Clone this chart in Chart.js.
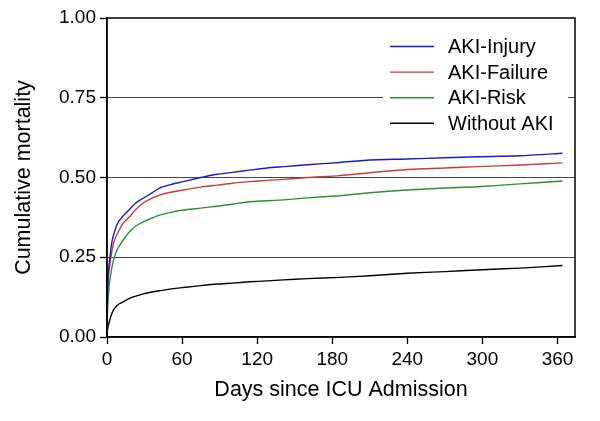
<!DOCTYPE html>
<html>
<head>
<meta charset="utf-8">
<script src="https://cdn.jsdelivr.net/npm/chart.js@4"></script>
<style>
  html, body { margin: 0; padding: 0; background: #fff; }
  #wrap { width: 600px; height: 421px; }
</style>
</head>
<body>
<div id="wrap"><canvas id="c" width="600" height="421"></canvas></div>
<script>
const days = [0, 0.3, 1, 2, 4, 6, 9, 13, 18, 23, 29, 36, 42, 50, 61, 75, 88, 100, 114, 128, 141, 160, 186, 210, 240, 270, 296, 330, 364];
const akiInjury = [0, 0.12, 0.20, 0.24, 0.30, 0.33, 0.36, 0.38, 0.40, 0.42, 0.435, 0.452, 0.467, 0.477, 0.487, 0.50, 0.51, 0.516, 0.523, 0.53, 0.534, 0.54, 0.547, 0.555, 0.558, 0.562, 0.565, 0.568, 0.576];
const akiFailure = [0, 0.11, 0.18, 0.22, 0.27, 0.304, 0.33, 0.357, 0.377, 0.40, 0.42, 0.435, 0.445, 0.453, 0.461, 0.47, 0.476, 0.482, 0.487, 0.491, 0.494, 0.50, 0.506, 0.515, 0.525, 0.53, 0.534, 0.539, 0.546];
const akiRisk = [0, 0.07, 0.12, 0.17, 0.22, 0.252, 0.28, 0.304, 0.33, 0.348, 0.361, 0.373, 0.382, 0.39, 0.398, 0.404, 0.41, 0.416, 0.424, 0.427, 0.43, 0.436, 0.443, 0.452, 0.461, 0.467, 0.471, 0.48, 0.489];
const withoutAki = [0, 0.02, 0.035, 0.05, 0.075, 0.09, 0.102, 0.11, 0.121, 0.128, 0.135, 0.141, 0.145, 0.15, 0.155, 0.161, 0.166, 0.169, 0.173, 0.176, 0.179, 0.183, 0.187, 0.192, 0.20, 0.205, 0.21, 0.216, 0.224];
const seriesNames = ['AKI-Injury', 'AKI-Failure', 'AKI-Risk', 'Without AKI'];
const seriesColors = ['#1a1acc', '#cc3a3a', '#2e8f2e', '#000000'];
const yTicks = [0, 0.25, 0.5, 0.75, 1];
const xTicks = [0, 60, 120, 180, 240, 300, 360];

const allSeries = [akiInjury, akiFailure, akiRisk, withoutAki];
const datasets = allSeries.map((vals, i) => ({
  label: seriesNames[i],
  data: days.map((d, j) => ({ x: d, y: vals[j] })),
  borderColor: seriesColors[i],
  borderWidth: 1.4,
  pointRadius: 0,
  tension: 0.2,
  fill: false
}));

const FONT = 'Liberation Sans, Arial, sans-serif';

const framePlugin = {
  id: 'frame',
  afterDraw(chart) {
    const ctx = chart.ctx;
    const a = chart.chartArea;
    // legend
    ctx.save();
    ctx.fillStyle = '#fff';
    ctx.fillRect(383, 30, 185, 106);
    ctx.font = '20px ' + FONT;
    ctx.textBaseline = 'middle';
    ctx.textAlign = 'left';
    chart.data.datasets.forEach((ds, i) => {
      const y = 46.5 + i * 25.6;
      ctx.strokeStyle = ds.borderColor;
      ctx.lineWidth = 1.4;
      ctx.beginPath();
      ctx.moveTo(390, y);
      ctx.lineTo(434, y);
      ctx.stroke();
      ctx.fillStyle = '#000';
      ctx.fillText(ds.label, 448, y + 1);
    });
    // frame
    ctx.strokeStyle = '#000';
    ctx.lineWidth = 1.5;
    ctx.strokeRect(a.left, a.top, a.right - a.left, a.bottom - a.top);
    ctx.restore();
  }
};

new Chart(document.getElementById('c'), {
  type: 'line',
  data: { datasets },
  options: {
    responsive: false,
    animation: false,
    devicePixelRatio: 1,
    layout: { padding: { top: 18, right: 25, left: 0, bottom: 0 } },
    plugins: { legend: { display: false }, tooltip: { enabled: false } },
    scales: {
      x: {
        type: 'linear',
        min: 0,
        max: 374,
        afterBuildTicks: s => { s.ticks = xTicks.map(v => ({ value: v })); },
        afterFit: s => { s.height = 84; },
        ticks: { font: { size: 19, family: FONT }, color: '#000', padding: 4, maxRotation: 0, autoSkip: false },
        grid: { drawOnChartArea: false, tickLength: 7, tickColor: '#000', tickWidth: 1.3 },
        border: { color: '#000', width: 1.5 },
        title: { display: true, text: 'Days since ICU Admission', font: { size: 21.5, family: FONT }, color: '#000', padding: { top: 2, bottom: 18 } }
      },
      y: {
        min: 0,
        max: 1,
        afterBuildTicks: s => { s.ticks = yTicks.map(v => ({ value: v })); },
        afterFit: s => { s.width = 107; },
        ticks: { font: { size: 19, family: FONT }, color: '#000', padding: 4, callback: v => Number(v).toFixed(2) },
        grid: {
          color: c => (c.tick && c.tick.value > 0 && c.tick.value < 1) ? '#444' : 'rgba(0,0,0,0)',
          lineWidth: 1,
          tickLength: 7,
          tickColor: '#000',
          tickWidth: 1.3
        },
        border: { color: '#000', width: 1.5 },
        title: { display: true, text: 'Cumulative mortality', font: { size: 21.5, family: FONT }, color: '#000', padding: { top: 11, bottom: 4 } }
      }
    }
  },
  plugins: [framePlugin]
});
</script>
</body>
</html>
